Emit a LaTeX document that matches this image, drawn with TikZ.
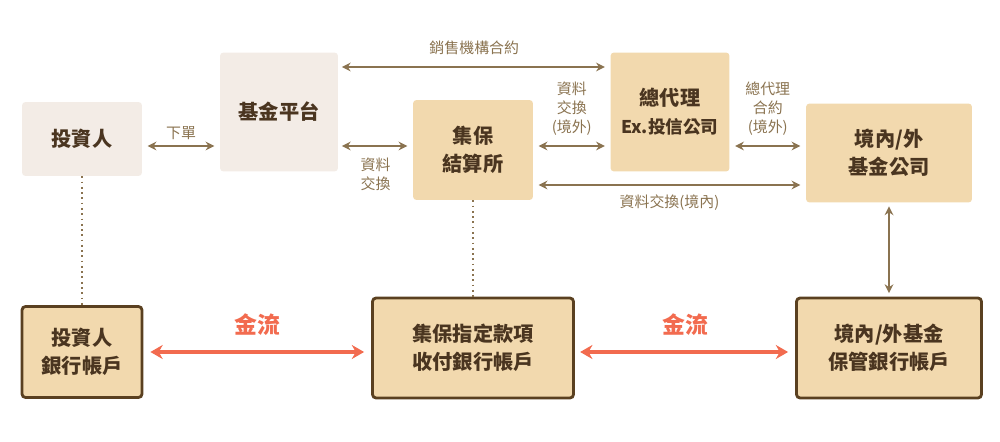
\documentclass[tikz,border=0pt]{standalone}
\usepackage{fontspec}
\setmainfont{Noto Sans CJK TC}
\usetikzlibrary{arrows.meta}
\definecolor{paleBox}{HTML}{F3ECE6}
\definecolor{tanBox}{HTML}{F2D9AE}
\definecolor{lineBrown}{HTML}{8A7350}
\definecolor{edgeBrown}{HTML}{5A4020}
\definecolor{flowRed}{HTML}{F26B4F}
\definecolor{textBrown}{HTML}{4A3520}

\tikzset{
  party/.style={rounded corners=2pt,align=center,font=\bfseries\fontsize{11.5}{16}\selectfont,text=textBrown},
  account/.style={party,draw=edgeBrown,line width=1.6pt,fill=tanBox},
  link/.style={lineBrown,line width=1pt,{Stealth[length=5pt,width=5pt]}-{Stealth[length=5pt,width=5pt]}},
  money/.style={flowRed,line width=2pt,{Stealth[length=7pt,width=8pt]}-{Stealth[length=7pt,width=8pt]}},
  note/.style={lineBrown,font=\fontsize{8.5}{11}\selectfont,align=center},
}

\begin{document}
\begin{tikzpicture}[x=0.02cm,y=-0.02cm]
  \useasboundingbox (0,0) rectangle (1000,442);
  \coordinate (top) at (0,67);
  \coordinate (mid) at (0,146);
  \coordinate (low) at (0,185);
  \coordinate (flow) at (0,352);

  % upper row
  \node[party,fill=paleBox,minimum width=2.4cm,minimum height=1.48cm] (investor) at (82,139) {投資人};
  \node[party,fill=paleBox,minimum width=2.36cm,minimum height=2.38cm] (platform) at (279,112) {基金平台};
  \node[party,fill=tanBox,minimum width=2.4cm,minimum height=2cm] (tdcc) at (473,150) {集保\\結算所};
  \node[party,fill=tanBox,minimum width=2.38cm,minimum height=2.38cm] (agent) at (670,112) {總代理\\{\fontsize{10}{14}\selectfont Ex.投信公司}};
  \node[party,fill=tanBox,minimum width=3.32cm,minimum height=1.98cm] (fund) at (889,153) {境內/外\\基金公司};

  % lower row
  \node[account,minimum width=2.4cm,minimum height=1.82cm] (invbank) at (82,352) {投資人\\銀行帳戶};
  \node[account,minimum width=4.02cm,minimum height=2cm] (tdccbank) at (473,348) {集保指定款項\\收付銀行帳戶};
  \node[account,minimum width=3.7cm,minimum height=2cm] (custbank) at (889,348) {境內/外基金\\保管銀行帳戶};

  % connectors
  \draw[link,shorten <=3pt,shorten >=3pt] (investor.east |- mid) -- (platform.west |- mid) node[midway,above,note] {下單};
  \draw[link,shorten <=2pt,shorten >=3pt] (platform.east |- top) -- (agent.west |- top) node[midway,above=3pt,note] {銷售機構合約};
  \draw[link,shorten <=2pt,shorten >=3pt] (platform.east |- mid) -- (tdcc.west |- mid) node[midway,below=3pt,note] {資料\\交換};
  \draw[link,shorten <=3pt,shorten >=3pt] (tdcc.east |- mid) -- (agent.west |- mid) node[midway,above=2pt,note] {資料\\交換\\(境外)};
  \draw[link,shorten <=3pt,shorten >=3pt] (agent.east |- mid) -- (fund.west |- mid) node[midway,above=2pt,note] {總代理\\合約\\(境外)};
  \draw[link,shorten <=3pt,shorten >=3pt] (tdcc.east |- low) -- (fund.west |- low) node[midway,below=2pt,note] {資料交換(境內)};
  \draw[lineBrown,line width=1pt,dotted] (investor.south) -- (invbank.north);
  \draw[lineBrown,line width=1pt,dotted] (tdcc.south) -- (tdccbank.north);
  \draw[link,shorten <=2pt,shorten >=2pt] (fund.south) -- (custbank.north);

  % money flows
  \draw[money,shorten <=4pt,shorten >=4pt] (invbank.east |- flow) -- (tdccbank.west |- flow) node[midway,above=5pt,flowRed,font=\bfseries\fontsize{13}{16}\selectfont] {金流};
  \draw[money,shorten <=3pt,shorten >=4pt] (tdccbank.east |- flow) -- (custbank.west |- flow) node[midway,above=5pt,flowRed,font=\bfseries\fontsize{13}{16}\selectfont] {金流};
\end{tikzpicture}
\end{document}
